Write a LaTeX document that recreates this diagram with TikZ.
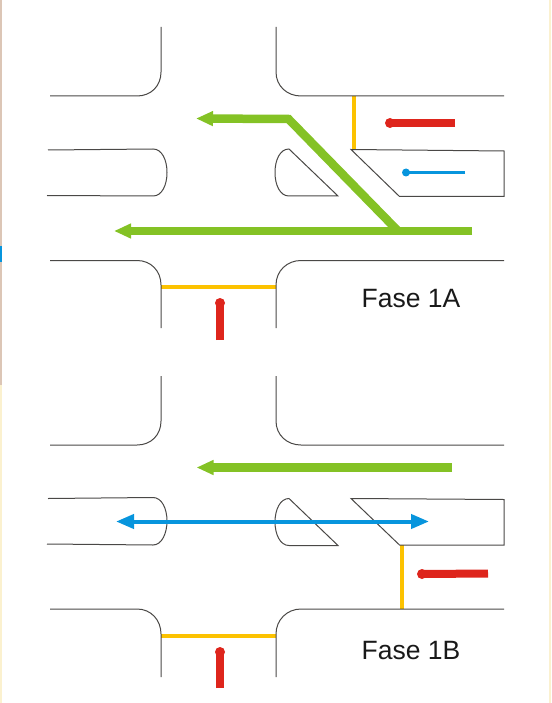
\documentclass[tikz,border=0pt]{standalone}
\usepackage{fontspec}
\setmainfont{Liberation Sans}
\usetikzlibrary{arrows.meta}
\definecolor{kerbgray}{HTML}{4A4846}
\definecolor{lanegreen}{HTML}{84C225}
\definecolor{laneblue}{HTML}{0795DD}
\definecolor{lanered}{HTML}{DE251C}
\definecolor{stopyellow}{HTML}{FCC200}
\definecolor{edgetan}{HTML}{DCC6B6}
\definecolor{edgecream}{HTML}{FBF1CF}

\begin{document}
\begin{tikzpicture}[
  x=1pt,y=-1pt,
  kerb/.style={draw=kerbgray,line width=1pt},
  green_lane/.style={draw=lanegreen,line width=8.5pt},
  green_arrow/.style={green_lane,-{Triangle[length=17pt,width=14pt]}},
  blue_arrow/.style={draw=laneblue,line width=4pt,{Triangle[length=18pt,width=14pt]}-{Triangle[length=18pt,width=14pt]}},
  red_lane/.style={draw=lanered,line width=8pt},
  red_dot/.style={fill=lanered,draw=none},
  blue_dot/.style={fill=laneblue,draw=none},
  stop_line/.style={draw=stopyellow,line width=4pt},
  fase_label/.style={anchor=base,font=\fontsize{26.5}{26.5}\selectfont,text=black!90}
  ]
  \useasboundingbox (0,0) rectangle (551,703);
  \fill[edgetan] (0,0) rectangle (1.5,246);
  \fill[laneblue] (0,246) rectangle (1.5,262);
  \fill[edgetan] (0,262) rectangle (1.5,385);
  \fill[edgecream] (0,385) rectangle (1.5,703);
  \fill[edgecream] (548.5,0) rectangle (551,703);

  % Fase 1A
  \draw[stop_line] (161,287) -- (276,287);
  \draw[stop_line] (354,96) -- (354,149);

  \draw[kerb] (50,96) -- (137,96) .. controls (151,96) and (161,86) .. (161,72) -- (161,27);
  \draw[kerb] (276,27) -- (276,72) .. controls (276,86) and (287,96) .. (301,96) -- (504,96);
  \draw[kerb] (50,260.5) -- (137,260.5) .. controls (151,260.5) and (161,271) .. (161,285) -- (161,328);
  \draw[kerb] (276,328) -- (276,285) .. controls (276,271) and (287,260.5) .. (301,260.5) -- (504,260.5);
  \draw[kerb] (48,150) -- (153,149) .. controls (162,149) and (167,160) .. (167,172.5)
    .. controls (167,185) and (162,196) .. (153,196) -- (47,195.5);
  \draw[kerb] (289,149) -- (338,196) -- (289,196) .. controls (280,196) and (275,185) .. (275,172.5)
    .. controls (275,160) and (280,149) .. (289,149) -- cycle;
  \draw[kerb] (351,149.5) -- (504,151) -- (504,196.5) -- (399.5,196.5) -- cycle;

  \draw[green_arrow] (398,231) -- (288.5,119) -- (196,118.5);
  \draw[green_arrow] (472,231) -- (114,231);

  \draw[red_lane] (455,123) -- (390,123);
  \fill[red_dot] (390,123) circle (5);
  \draw[draw=laneblue,line width=3.5pt] (465,172.5) -- (406,172.5);
  \fill[blue_dot] (406,172.5) circle (4);
  \draw[red_lane] (220,340) -- (220,303);
  \fill[red_dot] (220,303) circle (5);

  \node[fase_label] (fase1a) at (411,307) {Fase 1A};

  % Fase 1B
  \draw[stop_line] (161,635.5) -- (276,635.5);
  \draw[stop_line] (402,545) -- (402,609);

  \draw[kerb] (50,445) -- (137,445) .. controls (151,445) and (161,435) .. (161,421) -- (161,376);
  \draw[kerb] (276,376) -- (276,421) .. controls (276,435) and (287,445) .. (301,445) -- (504,445);
  \draw[kerb] (50,609) -- (137,609) .. controls (151,609) and (161,620) .. (161,634) -- (161,677);
  \draw[kerb] (276,677) -- (276,634) .. controls (276,620) and (287,609) .. (301,609) -- (504,609);
  \draw[kerb] (48,498.5) -- (153,497.5) .. controls (162,497.5) and (167,509) .. (167,521)
    .. controls (167,533) and (162,545) .. (153,545) -- (47,544);
  \draw[kerb] (289,498.5) -- (338,545.5) -- (289,545.5) .. controls (280,545.5) and (275,534) .. (275,522)
    .. controls (275,510) and (280,498.5) .. (289,498.5) -- cycle;
  \draw[kerb] (351,498.5) -- (504,499.5) -- (504,545) -- (399.5,545) -- cycle;

  \draw[green_arrow] (452,467.5) -- (196.5,467.5);
  \draw[blue_arrow] (116,521.5) -- (429,521.5);

  \draw[red_lane] (488,573.5) -- (422,574);
  \fill[red_dot] (422,574) circle (5);
  \draw[red_lane] (220,688) -- (220,652);
  \fill[red_dot] (220,652) circle (5);

  \node[fase_label] (fase1b) at (411,659) {Fase 1B};
\end{tikzpicture}
\end{document}
